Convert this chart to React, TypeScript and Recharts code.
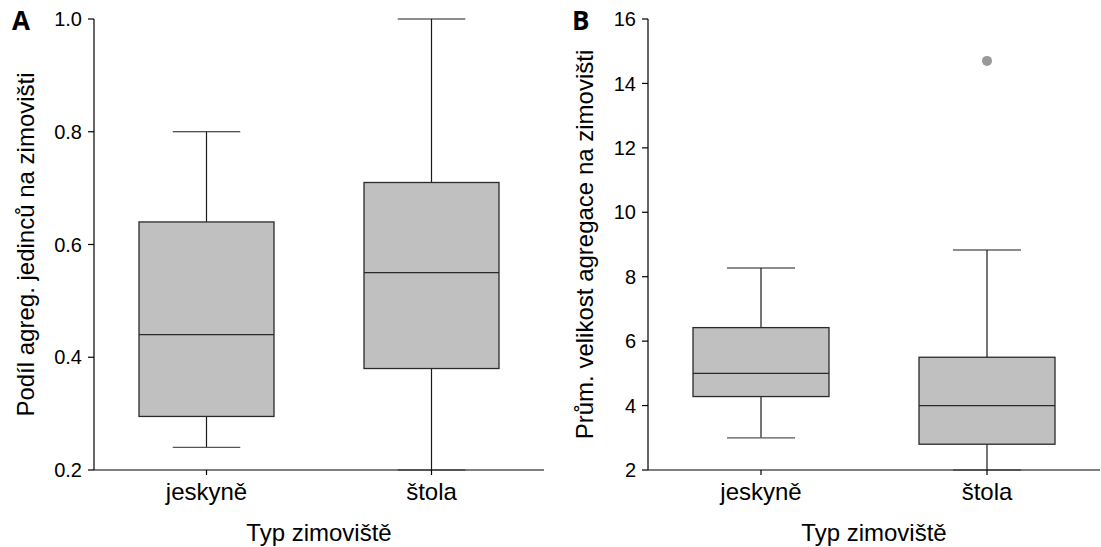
import { ComposedChart, Bar, Scatter, XAxis, YAxis } from "recharts";

const categories = ["jeskyně", "štola"];

// A: Podíl agreg. jedinců na zimovišti
const shareMin = [0.24, 0.2];
const shareQ1 = [0.295, 0.38];
const shareMedian = [0.44, 0.55];
const shareQ3 = [0.64, 0.71];
const shareMax = [0.8, 1.0];
const shareTicks = [0.2, 0.4, 0.6, 0.8, 1.0];

// B: Prům. velikost agregace na zimovišti
const sizeMin = [3.0, 2.0];
const sizeQ1 = [4.28, 2.8];
const sizeMedian = [5.0, 4.0];
const sizeQ3 = [6.42, 5.5];
const sizeMax = [8.27, 8.83];
const sizeTicks = [2, 4, 6, 8, 10, 12, 14, 16];
const sizeOutlierCats = ["štola"];
const sizeOutliers = [14.7];

const FONT = "'Liberation Sans', Arial, sans-serif";

const buildRows = (
  min: number[],
  q1: number[],
  median: number[],
  q3: number[],
  max: number[]
) =>
  categories.map((cat, i) => ({
    cat,
    min: min[i],
    q1: q1[i],
    median: median[i],
    q3: q3[i],
    max: max[i],
    range: [min[i], max[i]],
  }));

const shareRows = buildRows(shareMin, shareQ1, shareMedian, shareQ3, shareMax);
const sizeRows = buildRows(sizeMin, sizeQ1, sizeMedian, sizeQ3, sizeMax);
const outlierRows = sizeOutlierCats.map((cat, i) => ({ cat, value: sizeOutliers[i] }));

// box + whiskers drawn inside the min..max range bar
const BoxShape = (props: any) => {
  const { x, y, width, height, payload } = props;
  const { min, q1, median, q3, max } = payload;
  const top = Math.min(y, y + height);
  const span = Math.abs(height);
  const toY = (v: number) => top + (span * (max - v)) / (max - min);
  const cx = x + width / 2;
  const cap = width / 4;
  return (
    <g>
      <line x1={cx} x2={cx} y1={toY(max)} y2={toY(q3)} stroke="#1a1a1a" strokeWidth={1.2} />
      <line x1={cx} x2={cx} y1={toY(q1)} y2={toY(min)} stroke="#1a1a1a" strokeWidth={1.2} />
      <line x1={cx - cap} x2={cx + cap} y1={toY(max)} y2={toY(max)} stroke="#1a1a1a" strokeWidth={1.2} />
      <line x1={cx - cap} x2={cx + cap} y1={toY(min)} y2={toY(min)} stroke="#555" strokeWidth={1.2} />
      <rect
        x={x}
        y={toY(q3)}
        width={width}
        height={toY(q1) - toY(q3)}
        fill="#c0c0c0"
        stroke="#2a2a2a"
        strokeWidth={1.3}
      />
      <line x1={x} x2={x + width} y1={toY(median)} y2={toY(median)} stroke="#2a2a2a" strokeWidth={1.3} />
    </g>
  );
};

const yTitle = (text: string, baseX: number) => (p: any) => {
  const vb = p.viewBox;
  const cy = vb.y + vb.height / 2;
  return (
    <text
      x={baseX}
      y={cy}
      transform={`rotate(-90 ${baseX} ${cy})`}
      textAnchor="middle"
      fontSize={24}
      fontFamily={FONT}
      fill="#000"
    >
      {text}
    </text>
  );
};

const xTitle = (text: string) => (p: any) => {
  const vb = p.viewBox;
  return (
    <text
      x={vb.x + vb.width / 2}
      y={541}
      textAnchor="middle"
      fontSize={24}
      fontFamily={FONT}
      fill="#000"
    >
      {text}
    </text>
  );
};

const axisLine = { stroke: "#000", strokeWidth: 1.2 };

export default function App() {
  return (
    <div style={{ position: "absolute", left: 0, top: 0, width: 1101, height: 547, background: "#fff" }}>
      <div style={{ position: "absolute", left: 0, top: 0 }}>
        <ComposedChart
          width={550}
          height={547}
          data={shareRows}
          margin={{ top: 19, right: 6, left: 0, bottom: 0 }}
        >
          <XAxis
            dataKey="cat"
            height={77}
            axisLine={axisLine}
            tickLine={axisLine}
            tickSize={5}
            tickMargin={8}
            tick={{ fontSize: 24, fill: "#000", fontFamily: FONT }}
            label={xTitle("Typ zimoviště")}
          />
          <YAxis
            width={94}
            domain={[0.2, 1.0]}
            ticks={shareTicks}
            tickFormatter={(v: number) => v.toFixed(1)}
            axisLine={axisLine}
            tickLine={axisLine}
            tickSize={6}
            tickMargin={6}
            tick={{ fontSize: 20, fill: "#000", fontFamily: FONT }}
            label={yTitle("Podíl agreg. jedinců na zimovišti", 34)}
          />
          <Bar dataKey="range" barSize={135} shape={<BoxShape />} isAnimationActive={false} />
        </ComposedChart>
      </div>
      <div style={{ position: "absolute", left: 550, top: 0 }}>
        <ComposedChart
          width={551}
          height={547}
          data={sizeRows}
          margin={{ top: 19, right: 1, left: 0, bottom: 0 }}
        >
          <XAxis
            dataKey="cat"
            allowDuplicatedCategory={false}
            height={77}
            axisLine={axisLine}
            tickLine={axisLine}
            tickSize={5}
            tickMargin={8}
            tick={{ fontSize: 24, fill: "#000", fontFamily: FONT }}
            label={xTitle("Typ zimoviště")}
          />
          <YAxis
            width={98}
            domain={[2, 16]}
            ticks={sizeTicks}
            axisLine={axisLine}
            tickLine={axisLine}
            tickSize={6}
            tickMargin={6}
            tick={{ fontSize: 20, fill: "#000", fontFamily: FONT }}
            label={yTitle("Prům. velikost agregace na zimovišti", 43)}
          />
          <Bar dataKey="range" barSize={136} shape={<BoxShape />} isAnimationActive={false} />
          <Scatter
            data={outlierRows}
            dataKey="value"
            fill="#999"
            shape={(p: any) => <circle cx={p.cx} cy={p.cy} r={5} fill="#999" />}
            isAnimationActive={false}
          />
        </ComposedChart>
      </div>
      <svg
        width={1101}
        height={547}
        style={{ position: "absolute", left: 0, top: 0, pointerEvents: "none" }}
      >
        <text x={12} y={30} fontSize={26} fontWeight={700} fontFamily="'Open Sans', sans-serif" fill="#000">
          A
        </text>
        <text x={572} y={30} fontSize={26} fontWeight={700} fontFamily="'Open Sans', sans-serif" fill="#000">
          B
        </text>
      </svg>
    </div>
  );
}
